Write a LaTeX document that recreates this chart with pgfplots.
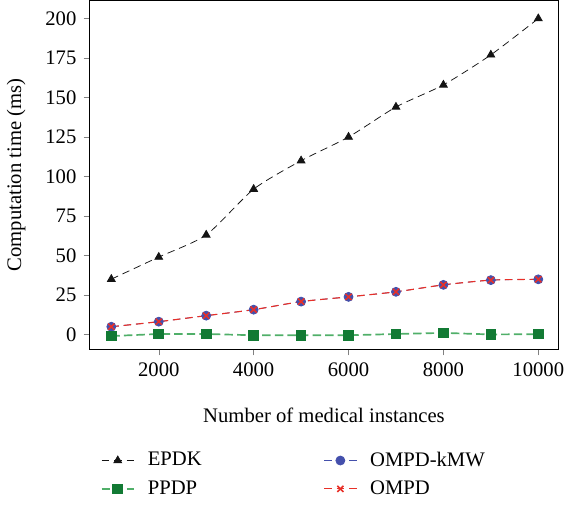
\documentclass[border=0pt]{standalone}
\usepackage{fontspec}
\setmainfont{Liberation Serif}
\usepackage{pgfplots}
\pgfplotsset{compat=1.18}

\definecolor{epdk}{RGB}{20,20,20}
\definecolor{kmw}{RGB}{68,80,172}
\definecolor{ppdpline}{RGB}{80,175,105}
\definecolor{ppdpmark}{RGB}{18,122,52}
\definecolor{ompd}{RGB}{232,48,40}

\begin{document}
\fontsize{11}{13}\selectfont
\begin{tikzpicture}
\begin{axis}[
    scale only axis,
    width=250pt,
    height=186pt,
    xmin=535, xmax=10430,
    ymin=-9.6, ymax=211.5,
    xtick={2000,4000,6000,8000,10000},
    ytick={0,25,50,75,100,125,150,175,200},
    tick pos=left,
    tick align=outside,
    major tick length=3pt,
    scaled x ticks=false,
    /pgf/number format/assume math mode=true,
    /pgf/number format/1000 sep={},
    ticklabel style={font=\fontsize{11}{13}\selectfont},
    xlabel={Number of medical instances},
    ylabel={Computation time (ms)},
    xlabel shift=9pt,
    ylabel shift=3pt,
    label style={font=\fontsize{11}{13}\selectfont},
    legend columns=2,
    legend cell align=left,
    legend style={draw=none, fill=none, at={(0.012,-0.27)}, anchor=north west,
        font=\fontsize{11}{13}\selectfont,
        /tikz/every odd column/.append style={column sep=5pt},
        /tikz/every even column/.append style={column sep=63pt},
        row sep=2pt},
]
\addplot[epdk, dash pattern=on 4pt off 2.6pt, mark=triangle*, mark size=2.4pt, mark options={solid}, smooth, tension=0.4]
coordinates {(1000,35) (2000,49) (3000,63) (4000,92) (5000,110) (6000,125) (7000,144) (8000,158) (9000,177) (10000,200)};
\addlegendentry{EPDK}
\addplot[kmw, dash pattern=on 4pt off 2.6pt, mark=*, mark size=2.4pt, mark options={solid}, smooth, tension=0.4]
coordinates {(1000,4.9) (2000,8.1) (3000,11.9) (4000,15.7) (5000,20.8) (6000,23.8) (7000,27) (8000,31.4) (9000,34.4) (10000,34.9)};
\addlegendentry{OMPD-kMW}
\addplot[ppdpline, line width=0.9pt, dash pattern=on 4.5pt off 2.2pt, mark=square*, mark size=2.4pt, mark options={solid, fill=ppdpmark, draw=ppdpmark}]
coordinates {(1000,-1) (2000,0.3) (3000,0.3) (4000,-0.5) (5000,-0.5) (6000,-0.5) (7000,0.3) (8000,1) (9000,0) (10000,0.2)};
\addlegendentry{PPDP}
\addplot[ompd, line width=0.6pt, dash pattern=on 4pt off 2.6pt, mark=x, mark size=2.3pt, mark options={solid, line width=0.8pt}, smooth, tension=0.4]
coordinates {(1000,4.9) (2000,8.1) (3000,11.9) (4000,15.7) (5000,20.8) (6000,23.8) (7000,27) (8000,31.4) (9000,34.4) (10000,34.9)};
\addlegendentry{OMPD}
\end{axis}
\end{tikzpicture}
\end{document}
